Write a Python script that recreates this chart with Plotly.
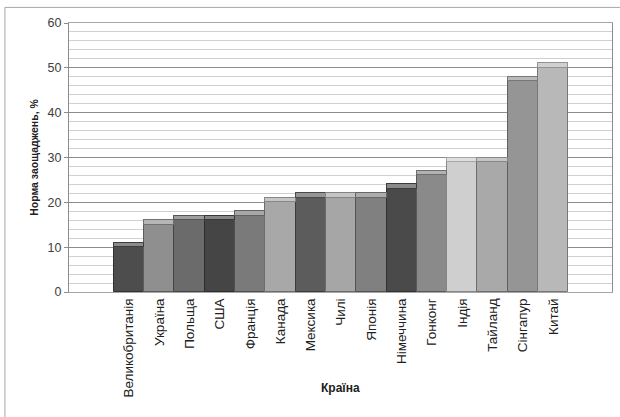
import plotly.graph_objects as go

# Savings rate by country, %
countries = ["Великобританія", "Україна", "Польща", "США", "Франція", "Канада",
             "Мексика", "Чилі", "Японія", "Німеччина", "Гонконг", "Індія",
             "Тайланд", "Сінгапур", "Китай"]
savings_rate = [11, 16, 17, 17, 18, 21, 22, 22, 22, 24, 27, 30, 30, 48, 51]

# Individual grey shade for each column
bar_colors = ["#4d4d4d", "#8f8f8f", "#6b6b6b", "#454545", "#7a7a7a", "#a8a8a8",
              "#5c5c5c", "#a6a6a6", "#808080", "#4a4a4a", "#8a8a8a", "#cfcfcf",
              "#a9a9a9", "#959595", "#b8b8b8"]


def lighten(hex_color, amount):
    r, g, b = (int(hex_color[i:i + 2], 16) for i in (1, 3, 5))
    mix = lambda c: int(c + (255 - c) * amount)
    return "#{:02x}{:02x}{:02x}".format(mix(r), mix(g), mix(b))


def darken(hex_color, amount):
    r, g, b = (int(hex_color[i:i + 2], 16) for i in (1, 3, 5))
    mix = lambda c: int(c * (1 - amount))
    return "#{:02x}{:02x}{:02x}".format(mix(r), mix(g), mix(b))


FONT = "Liberation Sans"
bevel = 1.0  # height of the lighter cap on top of each column, in data units

fig = go.Figure()
fig.add_trace(go.Bar(
    x=countries, y=savings_rate,
    marker=dict(color=bar_colors,
                line=dict(color=[darken(c, 0.35) for c in bar_colors], width=1)),
    hoverinfo="x+y", showlegend=False,
))
# Bevelled top cap
fig.add_trace(go.Bar(
    x=countries, y=[bevel] * len(savings_rate),
    base=[v - bevel for v in savings_rate],
    marker=dict(color=[lighten(c, 0.35) for c in bar_colors],
                line=dict(color=[darken(c, 0.2) for c in bar_colors], width=1)),
    hoverinfo="skip", showlegend=False,
))

fig.update_layout(
    width=620, height=417,
    margin=dict(l=69, r=8, t=23, b=125),
    paper_bgcolor="white", plot_bgcolor="white",
    barmode="overlay", bargap=0,
    font=dict(family=FONT, size=12, color="#404040"),
    xaxis=dict(
        type="category", range=[-1.98, 15.94],
        tickangle=-90, showgrid=False, ticks="",
        showline=True, linecolor="#a6a6a6", linewidth=1, mirror=True,
        tickfont=dict(family=FONT, size=13.5, color="#202020"),
    ),
    yaxis=dict(
        range=[0, 60], dtick=10, tick0=0,
        showgrid=True, gridcolor="#8c8c8c", gridwidth=1,
        minor=dict(dtick=2, showgrid=True, gridcolor="#d0d0d0", gridwidth=1),
        ticks="outside", ticklen=4, tickcolor="#8c8c8c",
        showline=True, linecolor="#8c8c8c", linewidth=1, mirror=True,
        zeroline=False,
        tickfont=dict(family=FONT, size=12.5, color="#404040"),
        title=dict(text="<b>Норма заощаджень, %</b>", standoff=6,
                   font=dict(family=FONT, size=10.5, color="#202020")),
    ),
    annotations=[dict(text="<b>Країна</b>", xref="paper", yref="paper",
                      x=0.5, y=-0.3575, xanchor="center", yanchor="middle",
                      showarrow=False,
                      font=dict(family=FONT, size=12, color="#202020"))],
    shapes=[dict(type="rect", xref="paper", yref="paper",
                 x0=-0.118, x1=1.05, y0=-0.5, y1=1.058,
                 line=dict(color="#a6a6a6", width=1), fillcolor="rgba(0,0,0,0)",
                 layer="below")],
)

fig.write_html("out.html")
